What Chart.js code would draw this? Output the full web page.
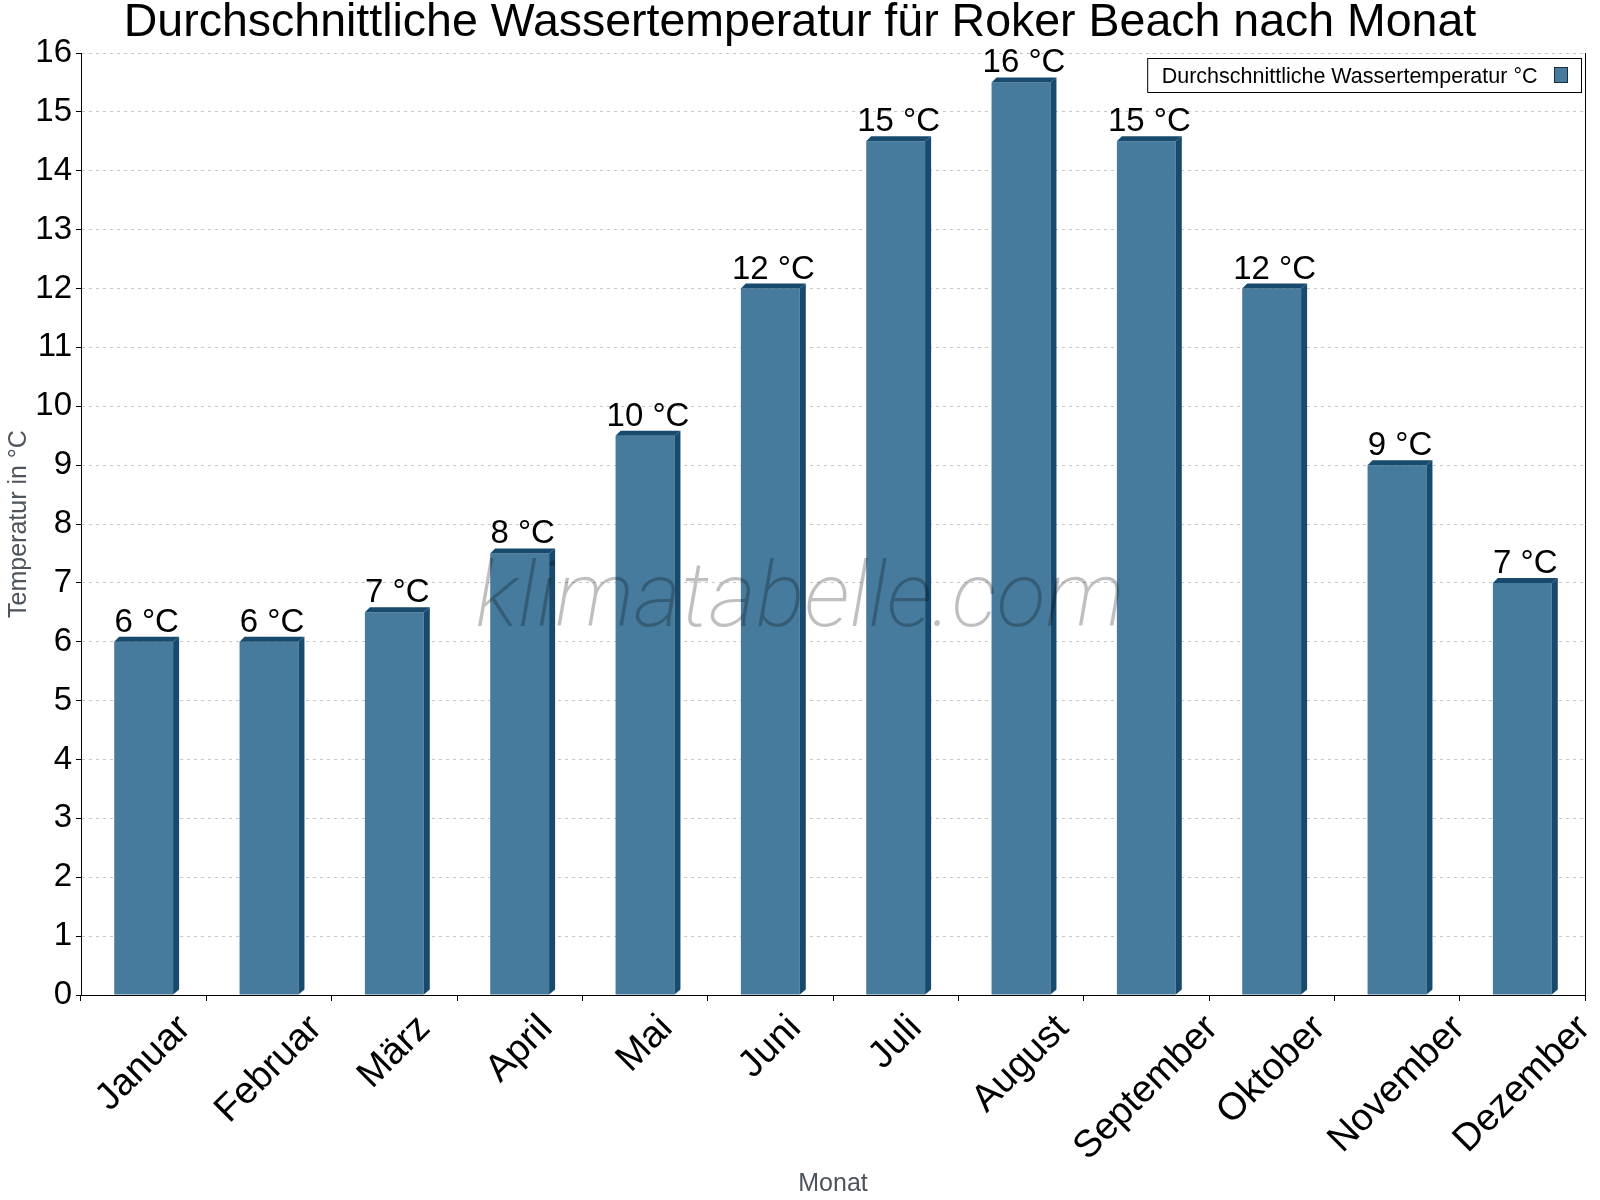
<!DOCTYPE html>
<html>
<head>
<meta charset="utf-8">
<script src="https://cdn.jsdelivr.net/npm/chart.js@4.4.1/dist/chart.umd.min.js"></script>
<style>
  body { margin: 0; background: #fff; }
</style>
</head>
<body>
<canvas id="water-temp" width="1600" height="1200"></canvas>
<script>
const ctxWater = document.getElementById('water-temp').getContext('2d')

// values
const months = ['Januar', 'Februar', 'März', 'April', 'Mai', 'Juni', 'Juli', 'August', 'September', 'Oktober', 'November', 'Dezember']
const waterTemps = [6, 6, 6.5, 7.5, 9.5, 12, 14.5, 15.5, 14.5, 12, 9, 7]
const valueLabels = ['6 °C', '6 °C', '7 °C', '8 °C', '10 °C', '12 °C', '15 °C', '16 °C', '15 °C', '12 °C', '9 °C', '7 °C']
const yMin = 0
const yMax = 16
const yStep = 1

const frontColor = '#467b9d'
const sideColor = '#174a6d'
const depth = { x: 6, y: 5 }

Chart.defaults.font.family = '"Liberation Sans", Arial, sans-serif'
Chart.defaults.color = '#000'

// dark side + top cap for the fake 3d look
const bar3d = {
  id: 'bar3d',
  afterDatasetsDraw(chart) {
    const ctx = chart.ctx
    ctx.save()
    ctx.fillStyle = sideColor
    chart.getDatasetMeta(0).data.forEach(bar => {
      const { x, y, width, base } = bar.getProps(['x', 'y', 'width', 'base'], true)
      const l = x - width / 2
      const r = x + width / 2
      ctx.beginPath()
      ctx.moveTo(r, y)
      ctx.lineTo(r + depth.x, y - depth.y)
      ctx.lineTo(r + depth.x, base - depth.y)
      ctx.lineTo(r, base)
      ctx.closePath()
      ctx.fill()
      ctx.beginPath()
      ctx.moveTo(l, y)
      ctx.lineTo(l + depth.x - 1, y - depth.y)
      ctx.lineTo(r + depth.x, y - depth.y)
      ctx.lineTo(r, y)
      ctx.closePath()
      ctx.fill()
    })
    ctx.restore()
  },
}

const watermark = {
  id: 'watermark',
  afterDatasetsDraw(chart) {
    const ctx = chart.ctx
    ctx.save()
    ctx.font = 'italic 200 91px Roboto'
    ctx.fillStyle = 'rgba(0, 0, 0, 0.25)'
    ctx.textAlign = 'center'
    ctx.textBaseline = 'alphabetic'
    ctx.fillText('klimatabelle.com', chart.width / 2, 626)
    ctx.restore()
  },
}

const barValues = {
  id: 'barValues',
  afterDatasetsDraw(chart) {
    const ctx = chart.ctx
    ctx.save()
    ctx.font = '33px "Liberation Sans", Arial, sans-serif'
    ctx.fillStyle = '#000'
    ctx.textAlign = 'center'
    ctx.textBaseline = 'alphabetic'
    chart.getDatasetMeta(0).data.forEach((bar, i) => {
      ctx.fillText(valueLabels[i], bar.x + depth.x / 2, bar.y - 10)
    })
    ctx.restore()
  },
}

// rotated month names, centred under each category
const monthLabels = {
  id: 'monthLabels',
  afterDraw(chart) {
    const ctx = chart.ctx
    const xScale = chart.scales.x
    const size = 38
    ctx.save()
    ctx.font = size + 'px "Liberation Sans", Arial, sans-serif'
    ctx.fillStyle = '#000'
    ctx.textAlign = 'center'
    ctx.textBaseline = 'middle'
    chart.data.labels.forEach((label, i) => {
      const w = ctx.measureText(label).width
      const cx = xScale.getPixelForValue(i)
      const cy = xScale.top + 14 + (w + size) * Math.SQRT1_2 / 2
      ctx.save()
      ctx.translate(cx, cy)
      ctx.rotate(-Math.PI / 4)
      ctx.fillText(label, 0, 0)
      ctx.restore()
    })
    ctx.restore()
  },
}

const boxLegend = {
  id: 'boxLegend',
  afterDraw(chart) {
    const ctx = chart.ctx
    const ds = chart.data.datasets[0]
    ctx.save()
    ctx.font = '21.5px "Liberation Sans", Arial, sans-serif'
    const textW = ctx.measureText(ds.label).width
    const right = 1581.5
    const left = right - textW - 58
    ctx.fillStyle = '#fff'
    ctx.fillRect(left, 58.5, right - left, 34)
    ctx.strokeStyle = '#000'
    ctx.lineWidth = 1
    ctx.strokeRect(left, 58.5, right - left, 34)
    ctx.fillStyle = '#000'
    ctx.textBaseline = 'alphabetic'
    ctx.fillText(ds.label, left + 14, 82.5)
    ctx.fillStyle = ds.backgroundColor
    ctx.fillRect(1554.5, 67.5, 13, 15)
    ctx.strokeStyle = '#1b2b3a'
    ctx.strokeRect(1554.5, 67.5, 13, 15)
    ctx.restore()
  },
}

const dataWater = {
  labels: months,
  datasets: [
    {
      data: waterTemps,
      label: 'Durchschnittliche Wassertemperatur °C',
      backgroundColor: frontColor,
      borderWidth: 0,
      categoryPercentage: 1,
      barPercentage: 0.47,
    },
  ],
}

const configWater = {
  type: 'bar',
  data: dataWater,
  plugins: [bar3d, watermark, barValues, monthLabels, boxLegend],
  options: {
    responsive: false,
    devicePixelRatio: 1,
    animation: false,
    layout: { padding: 0 },
    plugins: {
      legend: { display: false },
      tooltip: { enabled: false },
      title: {
        display: true,
        text: 'Durchschnittliche Wassertemperatur für Roker Beach nach Monat',
        color: '#000',
        font: { size: 46.5, weight: 'normal', lineHeight: 1 },
        padding: { top: 0, bottom: 6.5 },
      },
    },
    scales: {
      x: {
        grid: { drawOnChartArea: false, tickLength: 6, tickColor: '#000', offset: true },
        border: { color: '#000' },
        ticks: { display: false },
        title: {
          display: true,
          text: 'Monat',
          color: '#4d545c',
          font: { size: 25 },
          padding: { top: 0, bottom: 1 },
        },
        afterFit: scale => {
          scale.height = 205
        },
      },
      y: {
        min: yMin,
        max: yMax,
        ticks: { stepSize: yStep, color: '#000', font: { size: 33 }, padding: 4 },
        grid: { color: '#c8c8c8', tickColor: '#000', tickLength: 5 },
        border: { color: '#000', dash: [3, 4] },
        title: {
          display: true,
          text: 'Temperatur in °C',
          color: '#4d545c',
          font: { size: 25 },
          padding: { top: 4 },
        },
        afterFit: scale => {
          scale.width = 81
        },
      },
      y2: {
        position: 'right',
        min: yMin,
        max: yMax,
        ticks: { display: false },
        grid: { display: false },
        border: { color: '#000' },
        afterFit: scale => {
          scale.width = 15
        },
      },
    },
  },
}
const waterChart = new Chart(ctxWater, configWater)
</script>
</body>
</html>
